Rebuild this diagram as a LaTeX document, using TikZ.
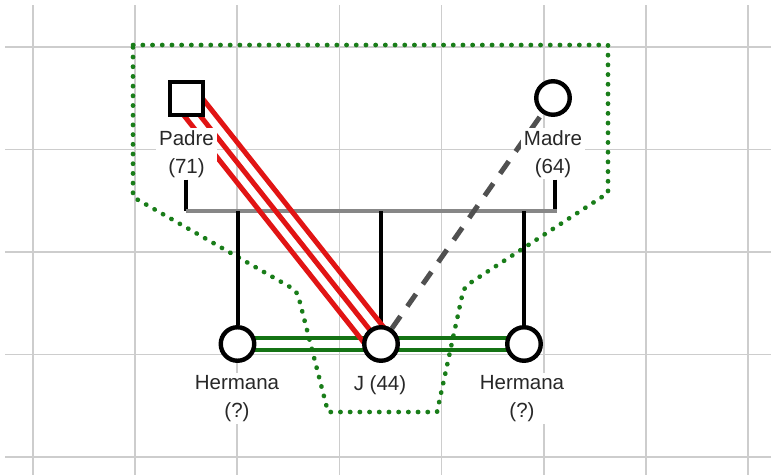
\documentclass[tikz,border=0pt]{standalone}
\usepackage{fontspec}
\setmainfont{Liberation Sans}
\usetikzlibrary{backgrounds}
\definecolor{gridgray}{RGB}{205,205,205}
\definecolor{dotgreen}{RGB}{25,125,25}
\definecolor{bandgreen}{RGB}{20,115,20}
\definecolor{relred}{RGB}{225,20,20}
\definecolor{marriagegray}{RGB}{135,135,135}
\definecolor{dashgray}{RGB}{80,80,80}
\definecolor{txt}{RGB}{40,40,40}
\begin{document}
\begin{tikzpicture}[x=1pt,y=-1pt,
  gridline/.style={draw=gridgray, line width=1.8pt},
  groupborder/.style={draw=dotgreen, line width=4.6pt, line cap=round, dash pattern=on 0.3pt off 9.4pt},
  person/.style={draw=black, fill=white, line width=4.4pt, inner sep=0pt},
  female/.style={person, circle, minimum size=33.5pt},
  male/.style={person, rectangle, minimum size=32.5pt},
  lbl/.style={fill=white, text=txt, inner xsep=3pt, inner ysep=2pt, align=center,
              font=\fontsize{20.5}{28}\selectfont},
  vline/.style={draw=black, line width=4pt},
  marriage/.style={draw=marriagegray, line width=4.5pt},
  sibband/.style={draw=bandgreen, line width=4.5pt},
  hostile/.style={draw=relred, line width=5pt},
  distant/.style={draw=dashgray, line width=5pt, dash pattern=on 15pt off 12pt}
]
\useasboundingbox (0,0) rectangle (771,475);

% persons
\node[male] (padre) at (186.5,98.5) {};
\node[female] (madre) at (553,98) {};
\node[female] (h1) at (237.5,344) {};
\node[female] (j) at (381,344) {};
\node[female] (h2) at (524,344) {};

% labels
\node[lbl, anchor=north] (padreL) at (186.5,128) {Padre\\(71)};
\node[lbl, anchor=north] (madreL) at (553,128) {Madre\\(64)};
\node[lbl, anchor=north] (h1L) at (237,373) {Hermana\\(?)};
\node[lbl, anchor=north] (jL) at (380,373) {J (44)};
\node[lbl, anchor=north] (h2L) at (522,373) {Hermana\\(?)};

\coordinate (mL) at (186,211);
\coordinate (mR) at (557,211);
\coordinate (mrTop) at (555,211);

\begin{pgfonlayer}{background}
  \fill[white] (0,0) rectangle (771,475);
  \foreach \i in {0,...,7} \draw[gridline] ({33+102.14*\i},5) -- ({33+102.14*\i},475);
  \foreach \k in {0,...,4} \draw[gridline] (5,{47+102.5*\k}) -- (771,{47+102.5*\k});

  % household boundary
  \draw[groupborder] (133,45) -- (608,45) -- (608,193) -- (475.7,279.3)
    .. controls (464,287) .. (461,300.7) -- (437,412) -- (328,412) -- (300.5,304.6)
    .. controls (297,291) .. (284.9,284) -- (133,197) -- cycle;

  % parents to marriage line
  \draw[vline] (padreL.south -| mL) -- (mL);
  \draw[vline] (madreL.south -| mrTop) -- (mrTop);
  \draw[marriage] (mL) -- (mR);

  % children
  \draw[vline] (h1 |- mL) -- (h1);
  \draw[vline] (j |- mL) -- (j);
  \draw[vline] (h2 |- mL) -- (h2);

  % sibling bond
  \draw[sibband] ([yshift=6pt]h1.center) -- ([yshift=6pt]h2.center);
  \draw[sibband] ([yshift=-6pt]h1.center) -- ([yshift=-6pt]h2.center);

  % hostile relation padre - J
  \draw[hostile] ([shift={(9.8,-7.8)}]padre.center) -- ([shift={(9.8,-7.8)}]j.center);
  \draw[hostile] (padre.center) -- (j.center);
  \draw[hostile] ([shift={(-9.8,7.8)}]padre.center) -- ([shift={(-9.8,7.8)}]j.center);

  % distant relation madre - J
  \draw[distant] (j) -- (madre);
\end{pgfonlayer}
\end{tikzpicture}
\end{document}
